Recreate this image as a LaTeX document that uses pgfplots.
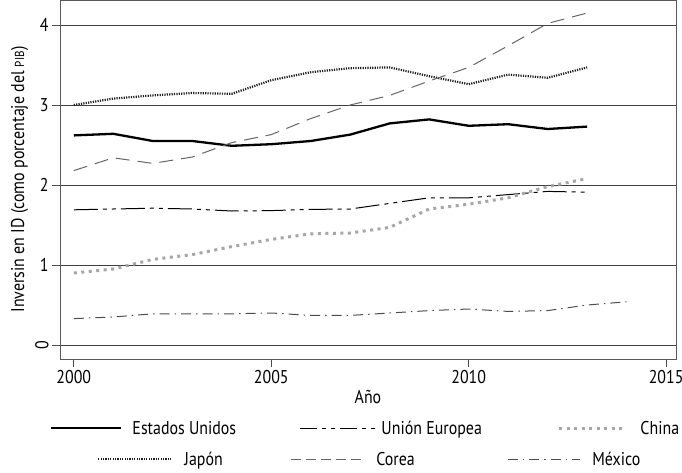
\documentclass[border=0pt]{standalone}
\usepackage{fontspec}
\setmainfont{PT Sans}[FakeStretch=0.86]
\usepackage{pgfplots}
\pgfplotsset{compat=1.18}

\definecolor{lightdot}{gray}{0.65}
\definecolor{japgray}{gray}{0.12}
\definecolor{corgray}{gray}{0.4}
\definecolor{mexgray}{gray}{0.3}

\pgfplotsset{
  every axis/.append style={font=\fontsize{18.5}{22}\selectfont},
  /pgf/number format/assume math mode=true,
  leglen/.style={legend image code/.code={\draw[##1] (0pt,0pt) -- (#1,0pt);}},
  leglenue/.style={legend image code/.code={\draw[##1,dash pattern=on 17pt off 5pt on 4pt off 5pt on 4pt off 5pt] (0pt,0pt) -- (#1,0pt);}},
}

\newcommand{\legtext}[3]{\makebox[#1pt][l]{\hspace{#2pt}#3}}

\begin{document}
\begin{tikzpicture}
\useasboundingbox (-60pt,-113pt) rectangle (622pt,359pt);
\begin{axis}[
  scale only axis, width=616pt, height=359pt,
  xmin=1999.65, xmax=2015.25, ymin=-0.175, ymax=4.3125,
  xtick={2000,2005,2010,2015},
  ytick={0,1,2,3,4},
  yticklabels={\rotatebox{90}{0},1,2,3,4},
  x tick label style={/pgf/number format/1000 sep={}},
  tick pos=left, tick align=outside,
  major tick length=8pt,
  tick style={black!70, line width=0.8pt},
  axis line style={black!65, line width=0.8pt},
  ymajorgrids, grid style={black!75, line width=0.8pt},
  xlabel={Año}, ylabel={Inversin en ID (como porcentaje del {\fontsize{13}{15}\selectfont PIB})},
  xlabel style={yshift=1pt},
  ylabel style={yshift=0pt},
  legend columns=3,
  legend cell align=left,
  legend style={draw=none, fill=none, at={(-0.01623,-0.193)}, anchor=west,
    nodes={inner sep=0pt}, inner sep=0pt},
]
\addplot[black, line width=2.3pt, leglen=70pt]
  coordinates {(2000,2.62) (2001,2.64) (2002,2.55) (2003,2.55) (2004,2.49) (2005,2.51) (2006,2.55) (2007,2.63) (2008,2.77) (2009,2.82) (2010,2.74) (2011,2.76) (2012,2.70) (2013,2.73)};
\addlegendentry{\legtext{177}{10}{Estados Unidos}}
\addplot[black, line width=1pt, dash pattern=on 24pt off 5pt on 4pt off 5pt on 4pt off 5pt, leglenue=76pt]
  coordinates {(2000,1.69) (2001,1.70) (2002,1.71) (2003,1.70) (2004,1.675) (2005,1.68) (2006,1.695) (2007,1.70) (2008,1.77) (2009,1.84) (2010,1.84) (2011,1.88) (2012,1.92) (2013,1.91)};
\addlegendentry{\legtext{181}{5}{Unión Europea}}
\addplot[lightdot, line width=3pt, dash pattern=on 3pt off 4.5pt, leglen=65pt]
  coordinates {(2000,0.90) (2001,0.95) (2002,1.07) (2003,1.13) (2004,1.23) (2005,1.32) (2006,1.39) (2007,1.40) (2008,1.47) (2009,1.70) (2010,1.76) (2011,1.84) (2012,1.98) (2013,2.08)};
\addlegendentry{\legtext{63}{15}{China}}
\addplot[japgray, line width=2.2pt, dash pattern=on 1.2pt off 1.2pt]
  coordinates {(2000,3.00) (2001,3.08) (2002,3.12) (2003,3.15) (2004,3.14) (2005,3.31) (2006,3.41) (2007,3.46) (2008,3.47) (2009,3.36) (2010,3.26) (2011,3.38) (2012,3.34) (2013,3.47)};
\addplot[corgray, line width=1pt, dash pattern=on 14pt off 8pt]
  coordinates {(2000,2.18) (2001,2.34) (2002,2.27) (2003,2.35) (2004,2.53) (2005,2.63) (2006,2.83) (2007,3.00) (2008,3.12) (2009,3.30) (2010,3.47) (2011,3.74) (2012,4.02) (2013,4.15)};
\addplot[mexgray, line width=1pt, dash pattern=on 10pt off 5pt on 1.5pt off 5pt]
  coordinates {(2000,0.33) (2001,0.35) (2002,0.39) (2003,0.39) (2004,0.39) (2005,0.40) (2006,0.37) (2007,0.37) (2008,0.40) (2009,0.43) (2010,0.45) (2011,0.42) (2012,0.43) (2013,0.50) (2014,0.54)};
\end{axis}
\begin{axis}[
  scale only axis, width=616pt, height=359pt, hide axis,
  xmin=1999.65, xmax=2015.25, ymin=-0.175, ymax=4.3125,
  legend columns=3,
  legend cell align=left,
  legend style={draw=none, fill=none, at={(0.06006,-0.279)}, anchor=west,
    nodes={inner sep=0pt}, inner sep=0pt},
]
\addlegendimage{japgray, line width=2.2pt, dash pattern=on 1.2pt off 1.2pt, leglen=73pt}
\addlegendentry{\legtext{118}{12}{Japón}}
\addlegendimage{corgray, line width=1pt, dash pattern=on 10pt off 5pt, leglen=73pt}
\addlegendentry{\legtext{143}{12}{Corea}}
\addlegendimage{mexgray, line width=1pt, dash pattern=on 10pt off 5pt on 1.5pt off 5pt, leglen=72pt}
\addlegendentry{\legtext{70}{12}{México}}
\end{axis}
\end{tikzpicture}
\end{document}
